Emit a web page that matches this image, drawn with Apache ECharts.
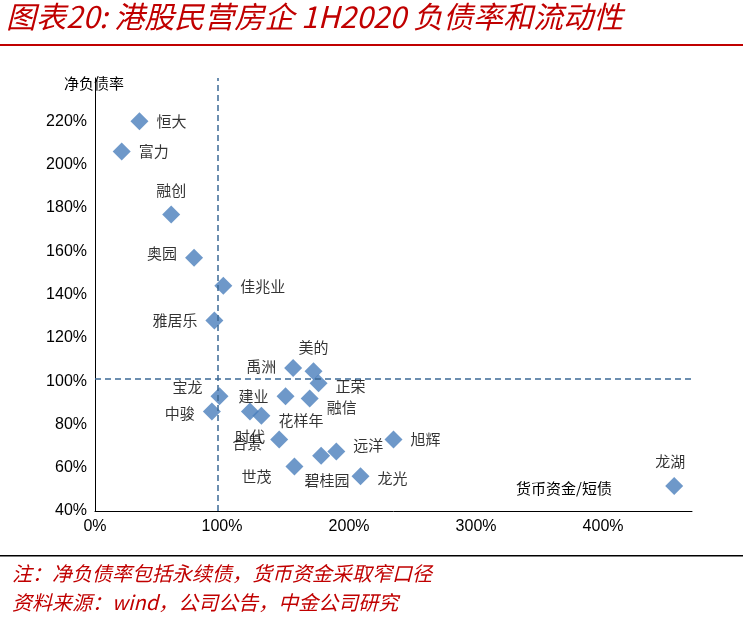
<!DOCTYPE html>
<html>
<head>
<meta charset="utf-8">
<script src="https://cdn.jsdelivr.net/npm/echarts@6/dist/echarts.min.js"></script>
<style>html,body{margin:0;padding:0;background:#fff}#main{width:743px;height:626px}</style>
</head>
<body>
<div id="main"></div>
<script>
// 房企：名称、货币资金/短债(%)、净负债率(%)
const names = ['恒大','富力','融创','奥园','佳兆业','雅居乐','禹洲','美的','正荣','宝龙','中骏','建业','融信','时代','花样年','合景','远洋','旭辉','世茂','碧桂园','龙光','龙湖'];
const cashRatio = [35, 21, 60, 78, 101, 94, 156, 172, 176, 98, 92, 150, 169, 122, 131, 145, 190, 235, 157, 178, 209, 456];
const netDebt = [220, 206, 177, 157, 144, 128, 106, 104.5, 99, 93, 86, 93, 92, 86, 84, 73, 67.5, 73, 60.5, 65.5, 56, 51.5];
const labelPos = ['right','right','top','left','right','left','left','top','right','left','left','left','right','bottom','right','left','right','right','left','bottom','right','top'];
const labelOff = [[0,0],[0,0],[0,0],[0,-4],[0,0],[0,0],[0,-2],[0,0],[0,3],[0,-9],[0,2],[0,0],[0,9],[0,0],[0,5],[0,4],[0,-6],[0,0],[-6,10],[6,0],[0,2],[-4,0]];
const xTicks = [0, 100, 200, 300, 400];

const chart = echarts.init(document.getElementById('main'));
const cjk = '"Noto Sans CJK SC", sans-serif';

chart.setOption({
  animation: false,
  textStyle: { fontFamily: cjk },
  grid: { left: 95, top: 78, width: 597, height: 433 },
  xAxis: {
    type: 'value', min: 0, max: 470, interval: 100,
    axisLine: { lineStyle: { color: '#000' } },
    axisTick: { show: false },
    splitLine: { show: false },
    axisLabel: {
      color: '#000', fontSize: 16, fontFamily: 'Liberation Sans',
      formatter: v => xTicks.includes(v) ? v + '%' : ''
    }
  },
  yAxis: {
    type: 'value', min: 40, max: 240, interval: 20,
    axisLine: { show: true, lineStyle: { color: '#000' } },
    axisTick: { show: false },
    splitLine: { show: false },
    axisLabel: {
      color: '#000', fontSize: 16, fontFamily: 'Liberation Sans',
      formatter: v => v > 220 ? '' : v + '%'
    }
  },
  series: [{
    type: 'scatter',
    symbol: 'diamond',
    symbolSize: 18,
    itemStyle: { color: '#4a7ebb' },
    data: names.map((n, i) => ({
      name: n, value: [cashRatio[i], netDebt[i]],
      label: { position: labelPos[i], offset: labelOff[i] }
    })),
    label: {
      show: true, formatter: '{b}', color: '#000', fontSize: 15, distance: 8
    },
    markLine: {
      silent: true, symbol: 'none', label: { show: false },
      lineStyle: { color: '#3d6a96', type: [6, 4], width: 1.5 },
      data: [{ xAxis: 97 }, { yAxis: 101 }]
    }
  }],
  graphic: [
    { type: 'text', left: 6, top: 2, style: { text: '图表20: 港股民营房企 1H2020 负债率和流动性', fill: '#c00000', font: 'italic 30px "Noto Sans CJK SC"' } },
    { type: 'rect', shape: { x: 0, y: 44, width: 743, height: 2 }, style: { fill: '#c00000' } },
    { type: 'text', left: 64, top: 76, style: { text: '净负债率', fill: '#000', font: '15px "Noto Sans CJK SC"' } },
    { type: 'text', left: 516, top: 481, style: { text: '货币资金/短债', fill: '#000', font: '15px "Noto Sans CJK SC"' } },
    { type: 'rect', shape: { x: 0, y: 555, width: 743, height: 1.5 }, style: { fill: '#000' } },
    { type: 'text', left: 12, top: 563, style: { text: '注：净负债率包括永续债，货币资金采取窄口径', fill: '#c00000', font: 'italic 20px "Noto Sans CJK SC"' } },
    { type: 'text', left: 12, top: 592, style: { text: '资料来源：wind，公司公告，中金公司研究', fill: '#c00000', font: 'italic 20px "Noto Sans CJK SC"' } }
  ]
});
</script>
</body>
</html>
